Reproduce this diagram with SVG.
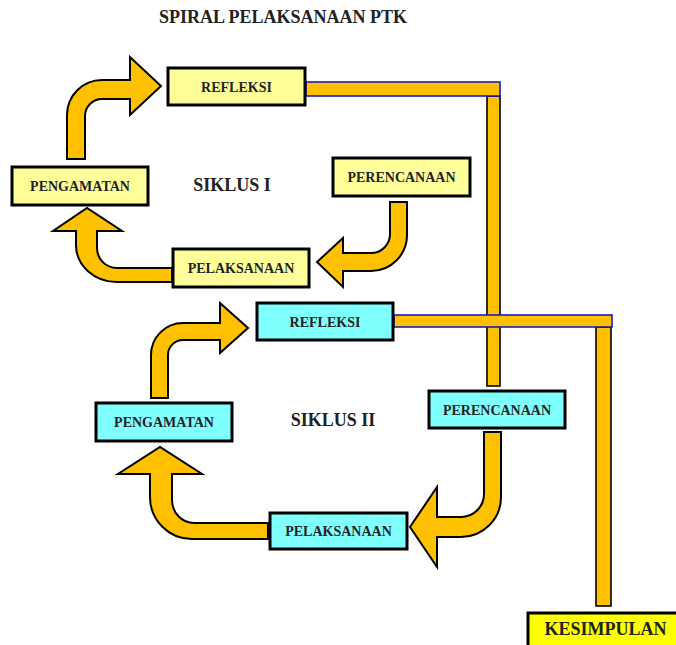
<svg xmlns="http://www.w3.org/2000/svg" width="676" height="645" viewBox="0 0 676 645">
<style>
.arrow{fill:#FFC000;stroke:#000;stroke-width:2;stroke-linejoin:miter}
.barh{fill:#FFC000;stroke:#1a1ac8;stroke-width:1.6}
.barv{fill:#FFC000;stroke:#000;stroke-width:1.6}
.box1{fill:#FFFF99;stroke:#000;stroke-width:3}
.box2{fill:#80FFFF;stroke:#000;stroke-width:3}
.box3{fill:#FFFF00;stroke:#000;stroke-width:3}
.lbl{font-family:"Liberation Serif","Times New Roman",serif;font-weight:bold;font-size:14px;fill:#222;text-anchor:middle}
.big{font-family:"Liberation Serif","Times New Roman",serif;font-weight:bold;font-size:18px;fill:#222;text-anchor:middle}
</style>
<rect width="676" height="645" fill="#fff"/>
<text class="big" x="283" y="23">SPIRAL PELAKSANAAN PTK</text>
<text class="big" x="232" y="191">SIKLUS I</text>
<text class="big" x="333" y="426">SIKLUS II</text>
<g id="connectors">
  <rect class="barv" x="487" y="96" width="13" height="290"/>
  <rect class="barh" x="306" y="82" width="194" height="14"/>
  <rect class="barv" x="596" y="327" width="15" height="279"/>
  <rect class="barh" x="394" y="315" width="218" height="12"/>
  <path class="arrow" d="M67,159 L67,115 A35,35 0 0 1 102,80 L130,80 L130,57 L161,86 L130,115 L130,99 L102,99 A17,17 0 0 0 85,116 L85,159 Z"/>
  <path class="arrow" d="M172,282 L117,282 A41,37 0 0 1 76,245 L76,231 L53,231 L87,208 L122,231 L97,231 L97,248 A20,20 0 0 0 117,268 L172,268 Z"/>
  <path class="arrow" d="M390,202 L407,202 L407,235 A36,36 0 0 1 371,271 L343,271 L343,287 L317,262 L343,238 L343,253 L371,253 A19,19 0 0 0 390,234 Z"/>
  <path class="arrow" d="M151,398 L151,355 A32,32 0 0 1 183,323 L220,323 L220,303 L248,328 L220,353 L220,340 L183,340 A15,15 0 0 0 168,355 L168,398 Z"/>
  <path class="arrow" d="M268,539 L192,539 A42,42 0 0 1 150,497 L150,474 L118,474 L160,447 L202,474 L172,474 L172,500 A22,23 0 0 0 194,523 L268,523 Z"/>
  <path class="arrow" d="M484,432 L501,432 L501,497 A40,40 0 0 1 461,537 L437,537 L437,567 L410,527 L437,487 L437,517 L461,517 A23,23 0 0 0 484,494 Z"/>
</g>
<g id="refleksi1"><rect class="box1" x="168" y="68" width="137" height="37"/><text class="lbl" x="236.5" y="91.5">REFLEKSI</text></g>
<g id="perencanaan1"><rect class="box1" x="333" y="158" width="137" height="38"/><text class="lbl" x="401.5" y="182">PERENCANAAN</text></g>
<g id="pelaksanaan1"><rect class="box1" x="173" y="249" width="136" height="38"/><text class="lbl" x="241" y="273">PELAKSANAAN</text></g>
<g id="pengamatan1"><rect class="box1" x="12" y="167" width="136" height="38"/><text class="lbl" x="80" y="191">PENGAMATAN</text></g>
<g id="refleksi2"><rect class="box2" x="257" y="303" width="136" height="37"/><text class="lbl" x="325" y="326.5">REFLEKSI</text></g>
<g id="perencanaan2"><rect class="box2" x="429" y="391" width="136" height="37"/><text class="lbl" x="497" y="414.5">PERENCANAAN</text></g>
<g id="pelaksanaan2"><rect class="box2" x="270" y="513" width="137" height="36"/><text class="lbl" x="338.5" y="536">PELAKSANAAN</text></g>
<g id="pengamatan2"><rect class="box2" x="96" y="403" width="136" height="38"/><text class="lbl" x="164" y="427">PENGAMATAN</text></g>
<g id="kesimpulan"><rect class="box3" x="528" y="613" width="155" height="40"/><text class="big" x="605.5" y="635">KESIMPULAN</text></g>
</svg>
